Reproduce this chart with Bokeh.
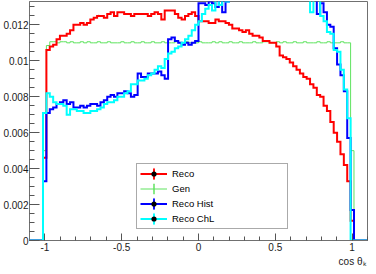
import numpy as np
from bokeh.plotting import figure
from bokeh.models import (Legend, LegendItem, Title, SingleIntervalTicker,
                          CustomJSTickFormatter, Range1d)
from bokeh.embed import file_html
from bokeh.resources import INLINE

# ---- histogram binning (100 bins from -1.1 to 1.1, content starts at bin 4) ----
x_lo, x_hi, n_bins = -1.1, 1.1, 100
first_bin = 4

# ---- bin contents (bins 4 .. 95) ----
reco = [0.0046,
        0.0106, 0.0108, 0.0109, 0.0112, 0.0114, 0.0114, 0.0115, 0.0117, 0.0120, 0.0120,
        0.0121, 0.0120, 0.0121, 0.0123, 0.0124, 0.0125, 0.0125, 0.0124, 0.0126, 0.0127,
        0.0125, 0.0127,
        0.0127, 0.0126, 0.0126, 0.0125, 0.0126, 0.0126, 0.0126, 0.0126, 0.0125, 0.0126,
        0.0127, 0.0126, 0.0123, 0.0128, 0.0128, 0.0128, 0.0126, 0.0124, 0.0123, 0.0125,
        0.0126, 0.0127,
        0.0125, 0.0122, 0.0122, 0.0122, 0.0121, 0.0121, 0.0123, 0.0122, 0.0122, 0.0121,
        0.0120, 0.0118, 0.0118, 0.0117, 0.0116, 0.0117, 0.0115, 0.0114, 0.0114, 0.0113,
        0.0111, 0.0111,
        0.0110, 0.0110, 0.0108, 0.0103, 0.0102, 0.0101, 0.0099, 0.0097, 0.0095, 0.0093,
        0.0091, 0.0090, 0.0087, 0.0085, 0.0081, 0.0080, 0.0075, 0.0072, 0.0066, 0.0060,
        0.0055, 0.0048, 0.0042, 0.0033,
        0.0011]

gen = [0.0050,
       0.01085, 0.01106, 0.01106, 0.01100, 0.01106, 0.01106, 0.01100, 0.01106, 0.01100, 0.01100,
       0.01106, 0.01100, 0.01106, 0.01100, 0.01100, 0.01106, 0.01100, 0.01100, 0.01106, 0.01100,
       0.01100, 0.01100, 0.01106, 0.01100, 0.01100, 0.01106, 0.01100, 0.01100, 0.01106, 0.01100,
       0.01100, 0.01106, 0.01100, 0.01100, 0.01106, 0.01100, 0.01100, 0.01100, 0.01106, 0.01100,
       0.01100, 0.01106, 0.01100, 0.01100, 0.01100, 0.01106, 0.01100, 0.01100, 0.01100, 0.01106,
       0.01100, 0.01106, 0.01100, 0.01100, 0.01106, 0.01100, 0.01100, 0.01106, 0.01100, 0.01100,
       0.01100, 0.01106, 0.01100, 0.01100, 0.01106, 0.01106, 0.01100, 0.01100, 0.01106, 0.01100,
       0.01106, 0.01100, 0.01100, 0.01106, 0.01100, 0.01100, 0.01106, 0.01100, 0.01100, 0.01100,
       0.01106, 0.01100, 0.01100, 0.01106, 0.01100, 0.01100, 0.01100, 0.01106, 0.01100, 0.01100,
       0.0050]

reco_hist = [0.0033,
             0.0071, 0.0073, 0.0074, 0.0076, 0.0077, 0.0078, 0.0076, 0.0077, 0.0074, 0.0074,
             0.0075, 0.0074, 0.0075, 0.0076, 0.0076, 0.0075, 0.0077, 0.0078, 0.0080, 0.0081,
             0.0080, 0.0082,
             0.0082, 0.0083, 0.0082, 0.0080, 0.0081, 0.0093, 0.0091, 0.0091, 0.0093, 0.0093,
             0.0093, 0.0094, 0.0092, 0.0090, 0.0112, 0.0113, 0.0111, 0.0110, 0.0109, 0.0110,
             0.0109, 0.0110, 0.0111,
             0.0132, 0.0132, 0.0131, 0.0133, 0.0132, 0.0130, 0.0134, 0.0127, 0.0133,
             0.0138, 0.0140, 0.0142, 0.0143, 0.0145, 0.0146, 0.0147, 0.0148, 0.0149, 0.0150,
             0.0150, 0.0151, 0.0151, 0.0152, 0.0152, 0.0151, 0.0151, 0.0150, 0.0149, 0.0148,
             0.0147, 0.0146, 0.0144, 0.0142, 0.0140, 0.0138,
             0.0126, 0.0132, 0.0127, 0.0120, 0.0119, 0.0107, 0.0098, 0.0092, 0.0083, 0.0057,
             0.0017]

reco_chl = [0.0071,
            0.0082, 0.0080, 0.0077, 0.0076, 0.0076, 0.0075, 0.0070, 0.0073, 0.0073, 0.0072,
            0.0072, 0.0071, 0.0071, 0.0072, 0.0072, 0.0073, 0.0074, 0.0076, 0.0077, 0.0077,
            0.0078, 0.0080,
            0.0080, 0.0082, 0.0083, 0.0087, 0.0087, 0.0089, 0.0089, 0.0090, 0.0092, 0.0093,
            0.0095, 0.0097, 0.0096, 0.0101, 0.0104, 0.0105, 0.0107, 0.0108, 0.0110, 0.0112,
            0.0114, 0.0117, 0.0120, 0.0122, 0.0126, 0.0129, 0.0131,
            0.0128, 0.0137, 0.0131, 0.0134, 0.0133,
            0.0139, 0.0141, 0.0143, 0.0145, 0.0146, 0.0147, 0.0148, 0.0149, 0.0150, 0.0150,
            0.0151, 0.0151, 0.0152, 0.0151, 0.0151, 0.0150, 0.0149, 0.0148, 0.0147, 0.0146,
            0.0144, 0.0142, 0.0140, 0.0138,
            0.0127, 0.0137, 0.0134, 0.0125, 0.0122, 0.0116, 0.0115, 0.0106, 0.0105, 0.0095,
            0.0084, 0.0068,
            0.0]

labels = ["Reco", "Gen", "Reco Hist", "Reco ChL"]
x_title = "cos θₖ"

edges = np.linspace(x_lo, x_hi, n_bins + 1)
centers = 0.5 * (edges[:-1] + edges[1:])


def full(v):
    arr = np.zeros(n_bins)
    arr[first_bin:first_bin + len(v)] = v
    return arr


FONT = "Liberation Sans"
FRAME = "#707070"

p = figure(width=368, height=266,
           x_range=Range1d(x_lo, x_hi), y_range=Range1d(0, 0.0133),
           output_backend="svg", toolbar_location=None,
           min_border_left=26, min_border_right=1,
           min_border_top=1, min_border_bottom=0)
p.grid.visible = False
p.outline_line_color = FRAME
p.outline_line_width = 1
p.background_fill_color = "white"
p.border_fill_color = "white"

# axes
p.xaxis.ticker = SingleIntervalTicker(interval=0.5, num_minor_ticks=5)
p.yaxis.ticker = SingleIntervalTicker(interval=0.002, num_minor_ticks=4)
p.xaxis.formatter = CustomJSTickFormatter(code="return String(Number(tick.toFixed(3)));")
p.yaxis.formatter = CustomJSTickFormatter(code="return String(Number(tick.toFixed(4)));")
for ax in (p.xaxis, p.yaxis):
    ax.axis_line_color = FRAME
    ax.major_tick_line_color = "#555555"
    ax.minor_tick_line_color = "#555555"
    ax.major_tick_out = 0
    ax.minor_tick_out = 0
    ax.major_label_text_font = FONT
    ax.major_label_text_font_size = "10px"
    ax.major_label_text_color = "#1a1a1a"
p.xaxis.major_tick_in = 7
p.xaxis.minor_tick_in = 4
p.xaxis.major_label_standoff = 2
p.yaxis.major_tick_in = 10
p.yaxis.minor_tick_in = 5
p.yaxis.major_label_standoff = 1

series = {
    "Reco": (reco, "#ff0000", 2, True),
    "Gen": (gen, "#5fe35f", 1, False),
    "Reco Hist": (reco_hist, "#0000ff", 2, True),
    "Reco ChL": (reco_chl, "#00ffff", 2, True),
}
draw_order = ["Gen", "Reco", "Reco Hist", "Reco ChL"]
proxy_bin = 20
renderers = {}
for name in draw_order:
    vals, color, lw, has_marker = series[name]
    h = full(vals)
    r_line = p.step(x=edges, y=np.append(h, 0.0), mode="after",
                    line_color=color, line_width=lw, line_join="miter")
    # legend helpers: vertical error-bar glyph and black marker (hidden on their own line)
    r_err = p.ellipse(x=[centers[proxy_bin]], y=[h[proxy_bin]], width=1e-4, height=1e-2,
                      width_units="screen", height_units="screen",
                      fill_color=None, line_color=color, line_width=lw)
    rs = [r_line, r_err]
    if has_marker:
        r_mk = p.scatter(x=[centers[proxy_bin]], y=[h[proxy_bin]], size=0, marker="circle",
                         fill_color="black", line_color=None)
        rs.append(r_mk)
    renderers[name] = rs

legend = Legend(items=[LegendItem(label=n, renderers=renderers[n]) for n in labels],
                location=(107, 11),
                glyph_width=27, glyph_height=13, label_height=13, label_width=112,
                label_standoff=5, padding=3, spacing=2,
                border_line_color="#555555", border_line_width=1,
                background_fill_color="white", background_fill_alpha=1.0,
                label_text_font=FONT, label_text_font_size="9.5px",
                label_text_color="#000000")
p.add_layout(legend)

p.add_layout(Title(text=x_title, align="right", offset=2, standoff=0,
                   text_font=FONT, text_font_size="10px", text_font_style="normal",
                   text_color="#1a1a1a"), "below")

open("out.html", "w").write(file_html(p, INLINE))
